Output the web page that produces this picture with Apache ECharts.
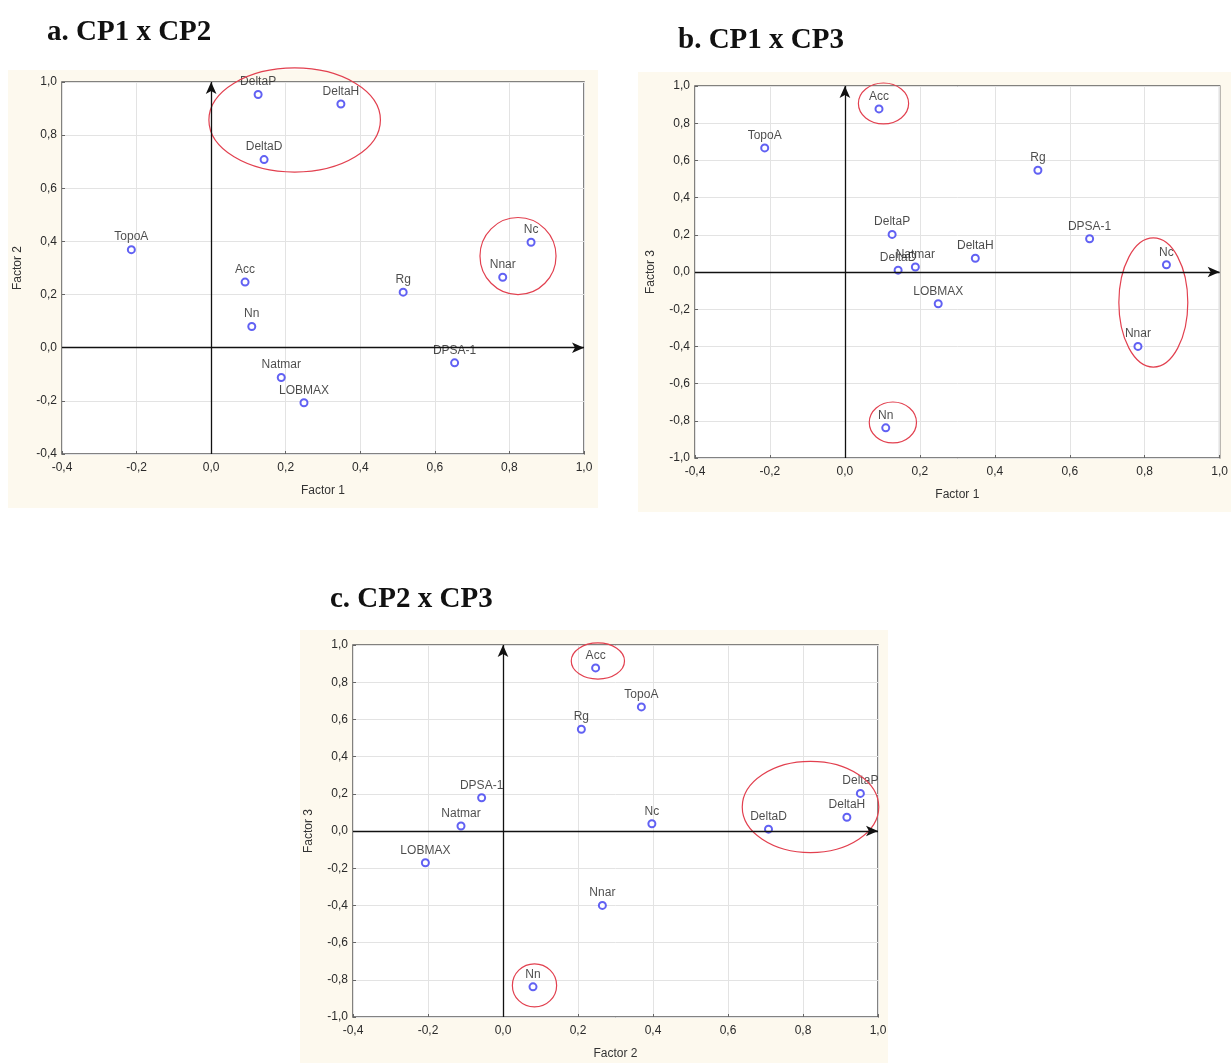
<!DOCTYPE html>
<html>
<head>
<meta charset="utf-8">
<script src="https://cdn.jsdelivr.net/npm/echarts@6/dist/echarts.min.js"></script>
<style>
  html, body { margin: 0; padding: 0; background: #ffffff; }
  #chart { width: 1231px; height: 1063px; }
</style>
</head>
<body>
<div id="chart"></div>
<script>
// Variable loadings on the first three principal components
const variables = ['DeltaP', 'DeltaH', 'DeltaD', 'TopoA', 'Acc', 'Nn', 'Rg', 'Nnar', 'Nc', 'DPSA-1', 'Natmar', 'LOBMAX'];
const factor1 = [0.126, 0.348, 0.142, -0.214, 0.091, 0.109, 0.515, 0.782, 0.858, 0.653, 0.188, 0.249];
const factor2 = [0.953, 0.917, 0.708, 0.369, 0.247, 0.080, 0.209, 0.265, 0.397, -0.057, -0.112, -0.207];
const factor3 = [0.202, 0.074, 0.010, 0.667, 0.877, -0.838, 0.547, -0.400, 0.039, 0.179, 0.027, -0.171];

// Highlighted groups: [centre x, centre y, radius x, radius y] in loading units
const groupsA = [[0.224, 0.857, 0.230, 0.196], [0.823, 0.345, 0.102, 0.145]];
const groupsB = [[0.103, 0.906, 0.067, 0.110], [0.823, -0.164, 0.092, 0.347], [0.128, -0.809, 0.063, 0.110]];
const groupsC = [[0.253, 0.914, 0.071, 0.097], [0.820, 0.129, 0.182, 0.245], [0.084, -0.830, 0.059, 0.116]];

const panelTitles = ['a. CP1 x CP2', 'b. CP1 x CP3', 'c. CP2 x CP3'];
const axisNames = [['Factor 1', 'Factor 2'], ['Factor 1', 'Factor 3'], ['Factor 2', 'Factor 3']];

const FONT = '"Liberation Sans", Arial, sans-serif';
const fmt = v => (Math.abs(v) < 1e-9 ? 0 : v).toFixed(1).replace('.', ',');

const panels = [
  { xs: factor1, ys: factor2, groups: groupsA, yMin: -0.4,
    grid: { left: 62, top: 82, width: 522, height: 372 },
    bg: { x: 8, y: 70, width: 590, height: 438 }, title: { left: 47, top: 18 } },
  { xs: factor1, ys: factor3, groups: groupsB, yMin: -1.0,
    grid: { left: 695, top: 86, width: 525, height: 372 },
    bg: { x: 638, y: 72, width: 593, height: 440 }, title: { left: 678, top: 26 } },
  { xs: factor2, ys: factor3, groups: groupsC, yMin: -1.0,
    grid: { left: 353, top: 645, width: 525, height: 372 },
    bg: { x: 300, y: 630, width: 588, height: 433 }, title: { left: 330, top: 585 } }
];

const grids = [], xAxes = [], yAxes = [], series = [], titles = [], graphics = [];

panels.forEach((p, i) => {
  graphics.push({ type: 'rect', shape: p.bg, style: { fill: '#fdf9ee' }, z: -10, silent: true });
  titles.push({
    text: panelTitles[i], left: p.title.left, top: p.title.top, padding: 0,
    textStyle: { fontFamily: '"Liberation Serif", "Times New Roman", serif', fontWeight: 'bold', fontSize: 29, color: '#111' }
  });
  grids.push(Object.assign({ show: true, backgroundColor: '#ffffff', borderColor: '#5a5a5a', borderWidth: 1.5 }, p.grid));
  const axisCommon = {
    gridIndex: i, type: 'value', max: 1.0, interval: 0.2,
    nameLocation: 'middle',
    nameTextStyle: { fontFamily: FONT, fontSize: 12, color: '#333' },
    axisLine: { show: false, onZero: false },
    axisTick: { show: true, inside: true, length: 3, lineStyle: { color: '#666' } },
    axisLabel: { formatter: fmt, fontFamily: FONT, fontSize: 12, color: '#2a2a2a' },
    splitLine: { show: true, lineStyle: { color: '#e3e3e3', width: 1 } }
  };
  xAxes.push(Object.assign({}, axisCommon, {
    min: -0.4, name: axisNames[i][0], nameGap: 31,
    axisLabel: Object.assign({}, axisCommon.axisLabel, { margin: 8 })
  }));
  yAxes.push(Object.assign({}, axisCommon, {
    min: p.yMin, name: axisNames[i][1], nameGap: 38,
    axisLabel: Object.assign({}, axisCommon.axisLabel, { margin: 5 })
  }));

  series.push({
    type: 'scatter', xAxisIndex: i, yAxisIndex: i,
    symbol: 'emptyCircle', symbolSize: 7,
    itemStyle: { color: '#3a3af0', borderWidth: 1.3 },
    label: {
      show: true, position: 'top', distance: 2, formatter: '{b}',
      fontFamily: FONT, fontSize: 12, color: '#1e1e1e'
    },
    emphasis: { disabled: true },
    data: variables.map((n, k) => ({ name: n, value: [p.xs[k], p.ys[k]] })),
    markLine: {
      silent: true, animation: false,
      symbol: ['none', 'arrow'], symbolSize: [8, 12],
      lineStyle: { color: '#111', type: 'solid', width: 1.3 },
      label: { show: false },
      data: [
        [{ coord: [-0.4, 0] }, { coord: [1.0, 0] }],
        [{ coord: [0, p.yMin] }, { coord: [0, 1.0] }]
      ]
    },
    z: 3
  });

  series.push({
    type: 'custom', xAxisIndex: i, yAxisIndex: i, clip: false, silent: true,
    encode: { x: 0, y: 1 },
    data: p.groups,
    renderItem: (params, api) => {
      const c = api.coord([api.value(0), api.value(1)]);
      const s = api.size([api.value(2), api.value(3)]);
      return {
        type: 'ellipse',
        shape: { cx: c[0], cy: c[1], rx: s[0], ry: s[1] },
        style: { fill: 'none', stroke: '#e2404f', lineWidth: 1.2 }
      };
    },
    z: 4
  });
});

const chart = echarts.init(document.getElementById('chart'), null, { renderer: 'canvas' });
chart.setOption({
  animation: false,
  backgroundColor: '#ffffff',
  title: titles,
  grid: grids,
  xAxis: xAxes,
  yAxis: yAxes,
  series: series,
  graphic: graphics
});
</script>
</body>
</html>
